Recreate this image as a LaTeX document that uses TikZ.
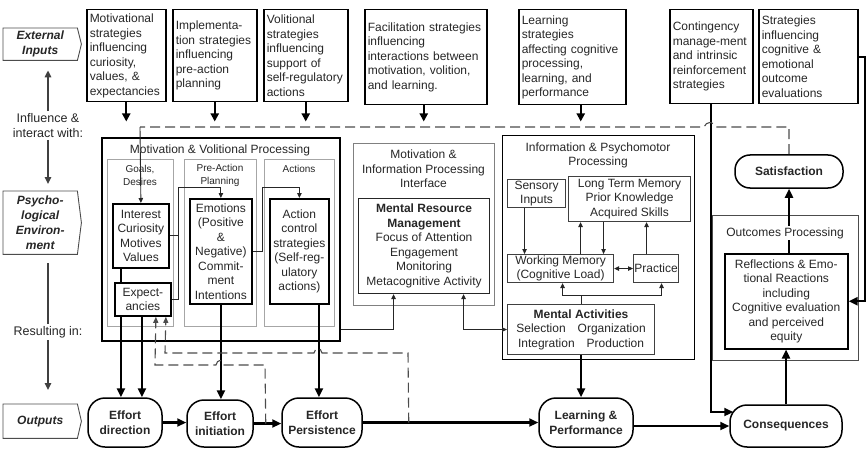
\documentclass[tikz,border=0pt]{standalone}
\usepackage{fontspec}
\setmainfont{Liberation Sans}
\usetikzlibrary{arrows.meta,calc}
\begin{document}
\begin{tikzpicture}[x=1pt,y=-1pt,
  every node/.style={text=black!85},
  f/.style={font=\fontsize{12}{14.5}\selectfont},
  fs/.style={font=\fontsize{10}{13}\selectfont},
  fb/.style={font=\fontsize{12}{14.5}\selectfont\bfseries},
  strat/.style={f, draw=black, line width=1.5pt, align=left, inner xsep=3pt, inner ysep=0pt, anchor=north west},
  tbox/.style={f, draw=black, line width=1.8pt, align=center, inner sep=0pt, anchor=north west},
  gcol/.style={draw=black!35, line width=0.9pt, anchor=north west, inner sep=0pt},
  sbox/.style={f, draw=black!75, line width=1.1pt, align=center, inner sep=0pt, anchor=north west},
  frame/.style={anchor=north west, inner sep=0pt},
  outn/.style={fb, draw=black, line width=1.5pt, rounded corners=17pt, align=center, inner sep=0pt},
  lbox/.style={font=\fontsize{12}{14.7}\selectfont\bfseries\itshape, align=center, inner sep=0pt, anchor=north west},
  lab/.style={font=\fontsize{12.5}{15}\selectfont, align=center, inner sep=2pt},
  sidearr/.style={draw=black!75, line width=1.5pt, -{Triangle[length=7pt,width=6.5pt]}},
  sideline/.style={draw=black!75, line width=1.5pt},
  medarr/.style={draw=black, line width=2pt, -{Triangle[length=8pt,width=8pt]}},
  bigarr/.style={draw=black, line width=2.2pt, -{Triangle[length=9pt,width=8pt]}},
  bigline/.style={draw=black, line width=2.2pt},
  tline/.style={draw=black!85, line width=0.9pt},
  tarr/.style={draw=black!85, line width=0.9pt, -{Triangle[length=5pt,width=4.5pt]}},
  tarrb/.style={draw=black!85, line width=0.9pt, {Triangle[length=5pt,width=4.5pt]}-{Triangle[length=5pt,width=4.5pt]}},
  dsh/.style={draw=black!70, line width=1.1pt, dash pattern=on 10pt off 5pt},
]
\useasboundingbox (0,0) rectangle (866,449);

% ---------- left column ----------
\node[lbox, minimum width=74pt, minimum height=32pt] (ext) at (3,28) {External\\Inputs};
\node[lbox, minimum width=74pt, minimum height=63pt] (psy) at (3,191) {Psycho-\\logical\\Environ-\\ment};
\node[lbox, minimum width=74pt, minimum height=34pt] (outp) at (3,404) {Outputs};
\foreach \n in {ext,psy,outp}
  \draw[black!70, line width=0.9pt] (\n.north west) -- (\n.north east) -- ($(\n.east)+(4,0)$) -- (\n.south east) -- (\n.south west) -- cycle;
\node[lab] (infl) at (48,125.5) {Influence \&\\interact with:};
\node[lab] (res) at (48,332) {Resulting in:};
\draw[sidearr] (infl.north) -- ($(infl.north |- ext.south)+(0,10)$);
\draw[sidearr] (infl.south) -- ($(infl.south |- psy.north)+(0,-7)$);
\coordinate (psyb) at ($(infl.south |- psy.south)+(0,9)$);
\draw[sideline] (psyb) -- (res.north);
\draw[sidearr] (res.south) -- ($(res.south |- outp.north)+(0,-14)$);

% ---------- external strategies ----------
\node[strat, text width=73pt, minimum height=92pt] (mot) at (86,9) {Motivational\\strategies\\influencing\\curiosity,\\values, \&\\expectancies};
\node[strat, text width=78pt, minimum height=92pt] (imp) at (172,9) {Implementa-\\tion strategies\\influencing\\pre-action\\planning};
\node[strat, text width=78pt, minimum height=92pt] (vol) at (263,9) {Volitional\\strategies\\influencing\\support of\\self-regulatory\\actions};
\node[strat, text width=116pt, minimum height=95pt] (fac) at (364,9) {Facilitation strategies\\influencing\\interactions between\\motivation, volition,\\and learning.};
\node[strat, text width=101pt, minimum height=95pt] (lrn) at (518,9) {Learning\\strategies\\affecting cognitive\\processing,\\learning, and\\performance};
\node[strat, text width=77pt, minimum height=94pt] (con) at (669,9) {Contingency\\manage-ment\\and intrinsic\\reinforcement\\strategies};
\node[strat, text width=93pt, minimum height=94pt] (sie) at (758,9) {Strategies\\influencing\\cognitive \&\\emotional\\outcome\\evaluations};

\draw[medarr] (mot.south) -- ++(0,19);
\draw[medarr] (imp.south) -- ++(0,19);
\draw[medarr] (vol.south) -- ++(0,19);
\draw[medarr] ([xshift=-2pt]fac.south) -- ++(0,16);
\draw[medarr] ([xshift=8.5pt]lrn.south) -- ++(0,16);

% ---------- outputs ----------
\node[outn, minimum width=74pt, minimum height=49pt] (ed) at (125,422.5) {Effort\\direction};
\node[outn, minimum width=66pt, minimum height=47pt] (ei) at (220,423.5) {Effort\\initiation};
\node[outn, minimum width=80pt, minimum height=49pt] (ep) at (322,422.5) {Effort\\Persistence};
\node[outn, minimum width=94pt, minimum height=49pt] (lp) at (586,422.5) {Learning \&\\Performance};
\node[outn, minimum width=112pt, minimum height=42pt] (cq) at (786,426) {Consequences};
\node[outn, minimum width=108pt, minimum height=33pt, rounded corners=15pt] (sat) at (789,171.5) {Satisfaction};

% ---------- motivation & volitional processing ----------
\node[frame, draw=black, line width=1.6pt, minimum width=238pt, minimum height=203pt] (mvp) at (101,137) {};
\node[gcol, minimum width=66pt, minimum height=167pt] (c1) at (107,159) {};
\node[gcol, minimum width=72pt, minimum height=167pt] (c2) at (184,159) {};
\node[gcol, minimum width=70pt, minimum height=167pt] (c3) at (264,159) {};
\node[f] (mvpt) at (220,150) {Motivation \& Volitional Processing};
\node[fs, align=center, inner sep=0pt] (c1t) at (140,175.5) {Goals,\\Desires};
\node[fs, align=center, inner sep=0pt] (c2t) at (220,175.5) {Pre-Action\\Planning};
\node[fs, inner sep=0pt] (c3t) at (299,169) {Actions};
\node[tbox, minimum width=56pt, minimum height=64pt] (int) at (112,203) {Interest\\Curiosity\\Motives\\Values};
\node[tbox, minimum width=56pt, minimum height=33pt] (exp) at (114,282) {Expect-\\ancies};
\node[tbox, minimum width=62pt, minimum height=105pt] (emo) at (189,198) {Emotions\\(Positive\\\&\\Negative)\\Commit-\\ment\\Intentions};
\node[tbox, minimum width=59pt, minimum height=105pt] (act) at (269,198) {Action\\control\\strategies\\(Self-reg-\\ulatory\\actions)};

\coordinate (j1) at (178,187);
\coordinate (j2) at (262,187);
\draw[tarr] (int.east) -| (j1) -| (emo.north);
\draw[tline] (exp.east) -| (j1);
\draw[tarr] (emo.east) -| (j2) -| (act.north);

\draw[bigline] ([xshift=-20pt]int.south) -- ([xshift=-20pt]int.south |- exp.north);
\draw[bigarr] ([xshift=-22pt]exp.south) -- ([xshift=-22pt]exp.south |- ed.north);
\draw[bigarr] ([xshift=-1pt]exp.south) -- ([xshift=-1pt]exp.south |- ed.north);
\draw[bigarr] (emo.south) -- (emo.south |- ei.north);
\draw[bigarr] ([xshift=19.5pt]act.south) -- ([xshift=19.5pt]act.south |- ep.north);

% ---------- motivation & information processing interface ----------
\node[frame, draw=black!50, line width=1pt, minimum width=141pt, minimum height=162pt] (mip) at (353,143) {};
\node[f, align=center] (mipt) at (423.5,169) {Motivation \&\\Information Processing\\Interface};
\node[sbox, draw=black!85, minimum width=131pt, minimum height=95pt] (mrm) at (358,198) {\textbf{Mental Resource}\\\textbf{Management}\\Focus of Attention\\Engagement\\Monitoring\\Metacognitive Activity};

% ---------- information & psychomotor processing ----------
\node[frame, draw=black, line width=1.3pt, minimum width=192pt, minimum height=224pt] (ipp) at (502,135) {};
\node[f, align=center] (ippt) at (598,155.5) {Information \& Psychomotor\\Processing};
\node[sbox, minimum width=58pt, minimum height=28pt] (sens) at (507,179) {Sensory\\Inputs};
\node[sbox, minimum width=122pt, minimum height=45pt] (ltm) at (568,176) {Long Term Memory\\Prior Knowledge\\Acquired Skills};
\node[sbox, minimum width=106pt, minimum height=28pt] (wm) at (507,254) {Working Memory\\(Cognitive Load)};
\node[sbox, minimum width=45pt, minimum height=28pt] (pr) at (633,254) {Practice};
\node[sbox, minimum width=147pt, minimum height=50pt] (ma) at (507,304) {\textbf{Mental Activities}\\Selection\hspace{12pt}Organization\\Integration\hspace{12pt}Production};

\draw[tarr] ([xshift=-12pt]sens.south) -- ([xshift=-12pt]sens.south |- wm.north);
\draw[tarr] ([xshift=-26pt]ltm.south) -- ([xshift=-26pt]ltm.south |- wm.north);
\draw[tarr] ([xshift=20pt]wm.north) -- ([xshift=20pt]wm.north |- ltm.south);
\draw[tarr] ([xshift=-9.5pt]pr.north) -- ([xshift=-9.5pt]pr.north |- ltm.south);
\draw[tarrb] (wm.east) -- (pr.west);
\coordinate (tj) at ($(ma.north)+(0,-9)$);
\draw[tline] (ma.north) -- (tj);
\draw[tarr] (tj) -| ([xshift=2pt]wm.south);
\draw[tarr] (tj) -| ([xshift=5.5pt]pr.south);

\draw[tarr] ($(mvp.south east)+(0,-12)$) -| ([xshift=-30.5pt]mrm.south);
\draw[tarrb] ([xshift=39.5pt]mrm.south) |- (ma.west);
\draw[bigarr] (ma.south) -- (ma.south |- lp.north);

% ---------- outcomes ----------
\node[frame, draw=black!70, line width=1pt, minimum width=146pt, minimum height=145pt] (ocp) at (712,215) {};
\node[sbox, draw=black, line width=1.5pt, minimum width=123pt, minimum height=95pt] (rfl) at (724,253) {Reflections \& Emo-\\tional Reactions\\including\\Cognitive evaluation\\and perceived\\equity};
\draw[bigarr] (sat.south |- rfl.north) -- (sat.south);
\node[f, fill=white, inner sep=1pt] (ocpt) at (785,233) {Outcomes Processing};
\draw[bigarr] (cq.north) -- (cq.north |- rfl.south);

% ---------- output flow ----------
\draw[bigarr] (ed.east) -- (ed.east -| ei.west);
\draw[bigarr] (ei.east) -- (ei.east -| ep.west);
\draw[bigarr] (ep.east) -- (ep.east -| lp.west);
\draw[bigarr] (lp.east |- cq.west) -- (cq.west);
\draw[bigarr] (con.south) |- ($(cq.west)+(4,-14)$);
\draw[bigarr] (sie.east) -- ++(7,0) |- (rfl.east);

% ---------- dashed feedback ----------
\coordinate (dtl) at (140,127);
\draw[dsh] (sat.north) -- (sat.north |- dtl) -- (716,127) .. controls (714,121) and (706,121) .. (704,127) -- (dtl);
\draw[tarr] (dtl) -- (int.north);
\coordinate (d1) at ($(ep.east)+(46,0)$);
\coordinate (d2) at ($(ei.east)+(12,0)$);
\draw[dsh, -{Triangle[length=6pt,width=5pt]}] (d1) -- (408,353) -- (322,353) .. controls (321,347) and (315,347) .. (314,353) -- (165,353) -- ([xshift=23pt]exp.south);
\draw[dsh, -{Triangle[length=6pt,width=5pt]}] (d2) -- (265,365) -- (224,365) .. controls (223,359) and (217,359) .. (216,365) -- (155,365) -- ([xshift=13pt]exp.south);
\end{tikzpicture}
\end{document}
